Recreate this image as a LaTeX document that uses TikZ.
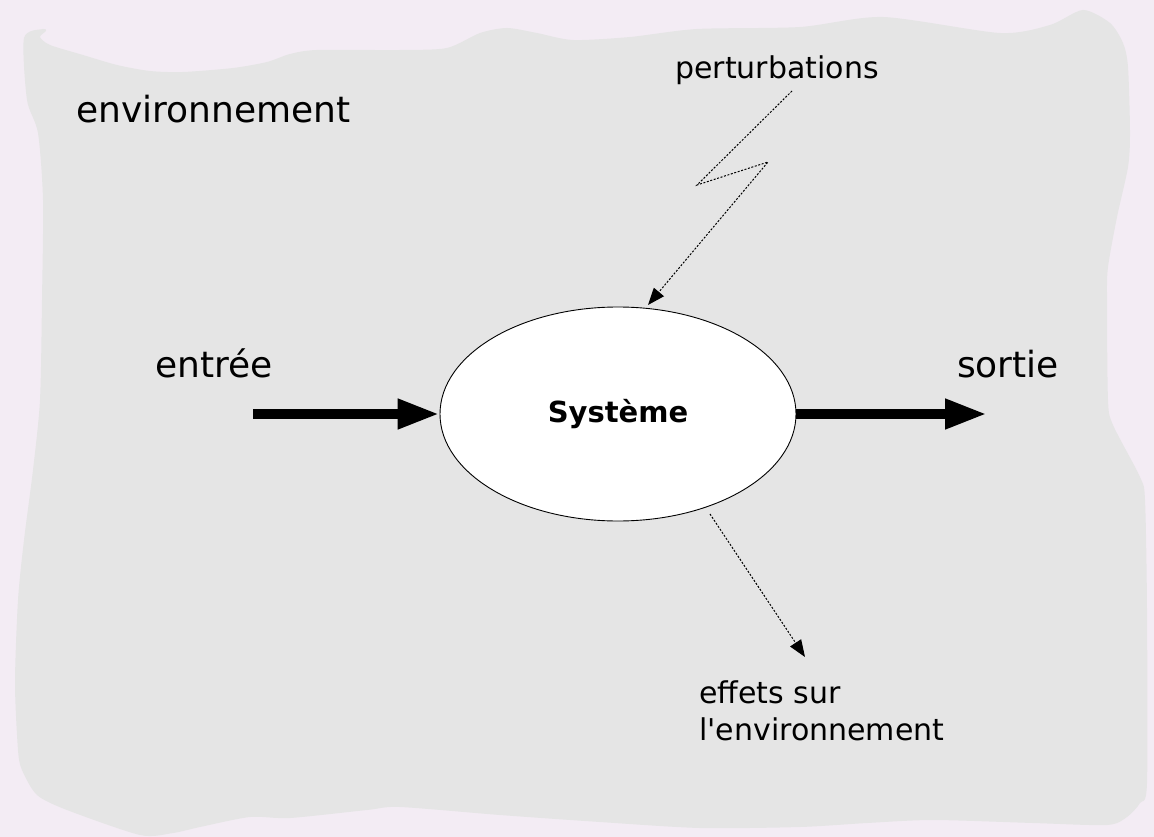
\documentclass[tikz,border=0pt]{standalone}
\usepackage{fontspec}
\setmainfont{DejaVu Sans}
% same family without the TeX quote mapping, so ' stays a straight quote
\newfontfamily\plainsans{DejaVu Sans}
\usetikzlibrary{shapes.geometric,arrows.meta}

\definecolor{pagebg}{RGB}{243,236,244}
\definecolor{envgray}{RGB}{229,229,229}

\tikzset{
  lbl/.style={inner sep=0pt, anchor=base west, text=black},
  biglbl/.style={lbl, font=\plainsans\fontsize{36}{43}\selectfont},
  smalllbl/.style={lbl, font=\plainsans\fontsize{30}{37}\selectfont},
  flow/.style={line width=10pt, -{Triangle[length=42pt,width=28pt]}},
  influence/.style={line width=1pt, dash pattern=on 2pt off 1.6pt,
                    -{Triangle[length=17pt,width=13pt]}},
  sysnode/.style={ellipse, draw=black, line width=0.9pt, fill=white,
                  minimum width=356pt, minimum height=214pt, inner sep=0pt,
                  font=\plainsans\bfseries\fontsize{29}{35}\selectfont}
}

\begin{document}
\begin{tikzpicture}[x=1pt,y=-1pt]
  % page and surrounding environment
  \fill[pagebg] (0,0) rectangle (1154,837);
  \useasboundingbox (0,0) rectangle (1154,837);
  \fill[envgray] plot[smooth cycle, tension=0.45] coordinates {
    (24,38) (43,29) (46,31) (40,37) (50,45) (83,55) (117,65) (150,71)
    (183,72) (233,68) (267,62) (290,54) (317,50) (400,50) (447,48)
    (480,33) (507,28) (537,33) (573,40) (630,37) (697,29) (800,27)
    (883,17) (1000,33) (1050,25) (1083,10) (1110,23) (1123,43)
    (1128,67) (1130,133) (1128,167) (1117,217) (1108,267) (1107,300)
    (1108,400) (1113,425) (1140,477) (1145,500) (1147,610) (1147,783)
    (1140,803) (1127,817) (1107,825) (1033,823) (933,820) (867,823)
    (800,827) (700,828) (600,822) (500,815) (400,807) (367,810)
    (290,818) (250,817) (200,827) (173,833) (140,835) (67,810)
    (37,795) (22,770) (18,750) (15,683) (18,600) (24,540) (33,470)
    (40,400) (42,300) (43,200) (38,133) (27,100)
  };

  % labels
  \node[biglbl] (env) at (76,123) {environnement};
  \node[biglbl] (entree) at (155,377) {entrée};
  \node[biglbl] (sortie) at (957,377) {sortie};
  \node[smalllbl] (pert) at (675,79) {perturbations};
  \node[smalllbl] (eff1) at (699,703) {effets sur};
  \node[smalllbl] (eff2) at (699,740) {l'environnement};

  % the system
  \node[sysnode] (sys) at (618,414) {Système};

  % input and output flows
  \coordinate (inStart) at (253,414);
  \coordinate (outEnd) at (987,414);
  \draw[flow] (inStart) -- (sys.west);
  \draw[flow] (sys.east) -- (outEnd);

  % disturbances striking the system
  \coordinate (p0) at (792,91);
  \coordinate (p1) at (697,185);
  \coordinate (p2) at (768,162);
  \coordinate (p3) at (648,305);
  \draw[influence] (p0) -- (p1) -- (p2) -- (p3);

  % effects on the environment
  \coordinate (e0) at (710,514);
  \coordinate (e1) at (805,657);
  \draw[influence] (e0) -- (e1);
\end{tikzpicture}
\end{document}
